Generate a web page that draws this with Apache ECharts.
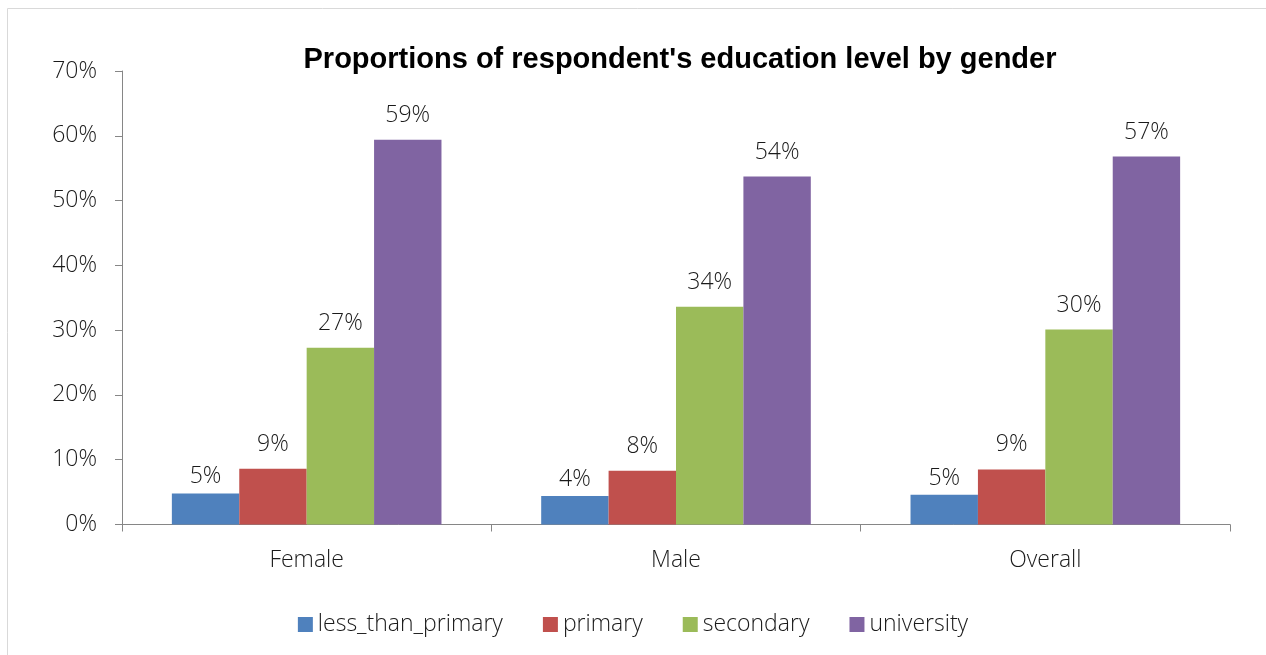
<!DOCTYPE html>
<html>
<head>
<meta charset="utf-8">
<script src="https://cdn.jsdelivr.net/npm/echarts@6/dist/echarts.min.js"></script>
<style>
  html, body { margin: 0; padding: 0; background: #fff; }
  #chart { width: 1266px; height: 655px; }
</style>
</head>
<body>
<div id="chart"></div>
<script>
// data (percent)
const categories = ['Female', 'Male', 'Overall'];
const lessThanPrimary = [4.8, 4.4, 4.6];
const primary = [8.6, 8.3, 8.5];
const secondary = [27.3, 33.6, 30.1];
const university = [59.4, 53.7, 56.8];
const seriesNames = ['less_than_primary', 'primary', 'secondary', 'university'];
const colors = ['#4F81BD', '#C0504D', '#9BBB59', '#8064A2'];

const labelFont = 'Open Sans, Noto Sans, sans-serif';
const labelWeight = 300;
const labelSize = 23;

const chart = echarts.init(document.getElementById('chart'));

const makeSeries = (name, data, color, dist) => ({
  name: name,
  type: 'bar',
  data: data,
  barGap: '0%',
  barCategoryGap: '27%',
  itemStyle: { color: color },
  label: {
    show: true,
    position: 'top',
    distance: dist,
    color: '#1a1a1a',
    fontFamily: labelFont,
    fontWeight: labelWeight,
    fontSize: labelSize,
    formatter: p => Math.round(p.value) + '%'
  }
});

chart.setOption({
  animation: false,
  graphic: [{
    type: 'rect',
    shape: { x: 7.5, y: 8.5, width: 1270, height: 660 },
    style: { fill: null, stroke: '#d9d9d9', lineWidth: 1 },
    silent: true
  }],
  title: {
    text: "Proportions of respondent's education level by gender",
    left: 675,
    textAlign: 'center',
    top: 40,
    textStyle: {
      fontFamily: 'Liberation Sans, Arial, sans-serif',
      fontSize: 29,
      fontWeight: 'bold',
      color: '#000'
    }
  },
  legend: {
    bottom: 14,
    left: 'center',
    itemWidth: 15,
    itemHeight: 15,
    itemGap: 40,
    icon: 'rect',
    textStyle: { fontFamily: labelFont, fontWeight: labelWeight, fontSize: labelSize, color: '#1a1a1a' },
    data: seriesNames
  },
  grid: { left: 122, right: 36, top: 71, bottom: 130.5 },
  xAxis: {
    type: 'category',
    data: categories,
    axisLine: { lineStyle: { color: '#868686' } },
    axisTick: { show: true, length: 7, lineStyle: { color: '#868686' } },
    axisLabel: { margin: 24, fontFamily: labelFont, fontWeight: labelWeight, fontSize: labelSize, color: '#1a1a1a' }
  },
  yAxis: {
    type: 'value',
    min: 0,
    max: 70,
    interval: 10,
    axisLine: { show: true, lineStyle: { color: '#868686' } },
    axisTick: { show: true, length: 7, lineStyle: { color: '#868686' } },
    splitLine: { show: false },
    axisLabel: {
      margin: 25,
      fontFamily: labelFont,
      fontWeight: labelWeight,
      fontSize: labelSize,
      color: '#1a1a1a',
      formatter: v => v + '%'
    }
  },
  series: [
    makeSeries(seriesNames[0], lessThanPrimary, colors[0], 5),
    makeSeries(seriesNames[1], primary, colors[1], 13),
    makeSeries(seriesNames[2], secondary, colors[2], 13),
    makeSeries(seriesNames[3], university, colors[3], 13)
  ]
});
</script>
</body>
</html>
